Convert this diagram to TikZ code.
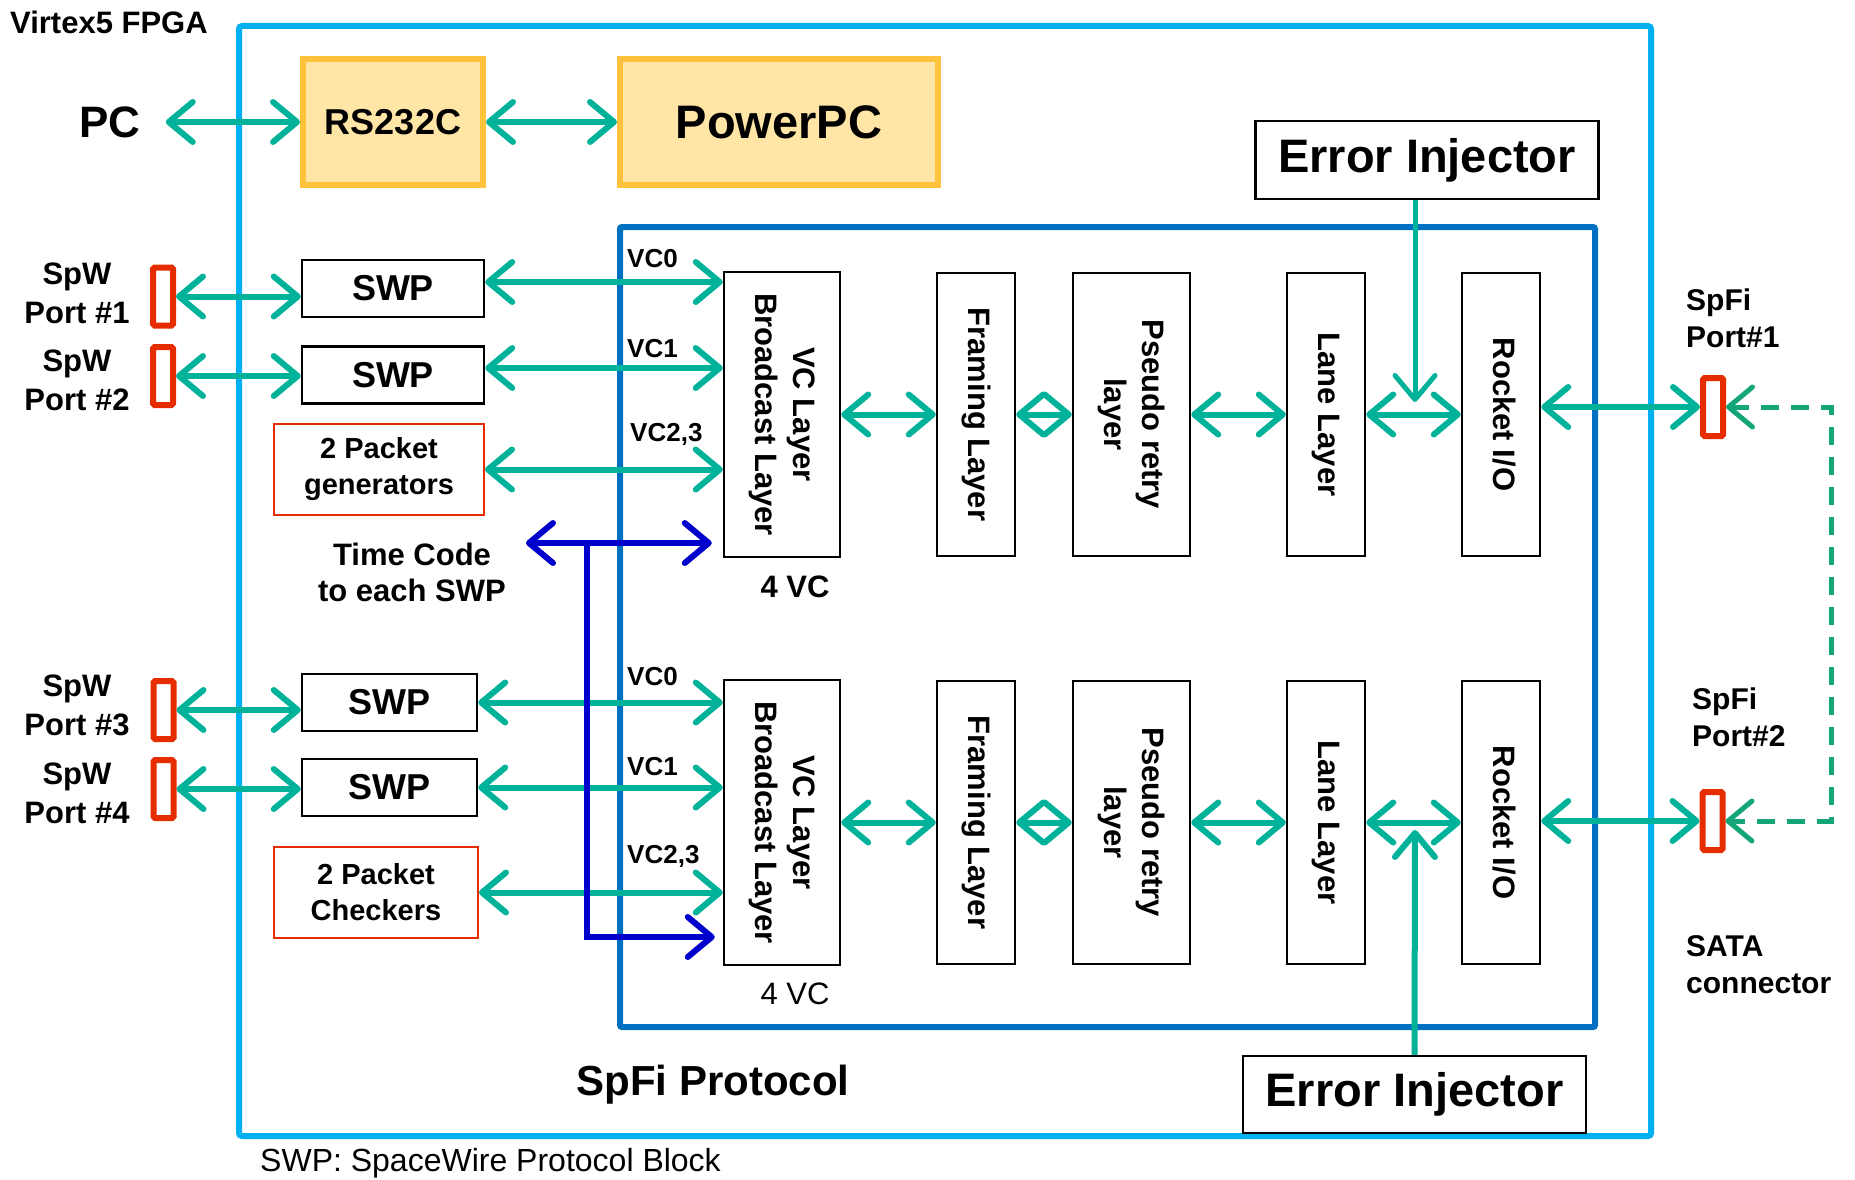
\documentclass[tikz,border=0pt]{standalone}
\usepackage{fontspec}
\setmainfont{Liberation Sans}
\usepackage{graphicx}
\usetikzlibrary{arrows.meta,calc}
\definecolor{tealA}{RGB}{0,178,153}
\definecolor{dashG}{RGB}{20,165,120}
\definecolor{fpgaBlue}{RGB}{0,176,240}
\definecolor{spfiBlue}{RGB}{0,112,192}
\definecolor{orgLine}{RGB}{255,194,60}
\definecolor{orgFill}{RGB}{255,230,166}
\definecolor{portRed}{RGB}{230,45,0}
\definecolor{tcBlue}{RGB}{0,0,204}
\newcommand\myfs[2]{\fontsize{#1}{#2}\selectfont}
\newcommand\rot[1]{\rotatebox{-90}{\begin{tabular}{@{}c@{}}#1\end{tabular}}}
\begin{document}
\begin{tikzpicture}[x=1pt,y=-1pt,
  >={Straight Barb[length=24pt,width=40pt,round]},
  conn/.style={draw=tealA,line width=6pt},
  dconn/.style={draw=dashG,line width=5pt,dash pattern=on 18pt off 12pt},
  tcline/.style={draw=tcBlue,line width=6pt},
  blk/.style={draw=black,line width=2.5pt,fill=white,inner sep=0pt,align=center},
  layer/.style={blk,minimum width=78pt,minimum height=283pt,font=\myfs{31}{38}\bfseries},
  swpbox/.style={blk,minimum width=182pt,minimum height=57pt,font=\myfs{36}{40}\bfseries},
  pkt/.style={draw=portRed,line width=2pt,fill=white,inner sep=0pt,align=center,minimum height=91pt,font=\myfs{29}{36}\bfseries},
  org/.style={draw=orgLine,fill=orgFill,line width=6pt,inner sep=0pt,minimum height=126pt},
  port/.style={draw=portRed,line width=6pt,fill=white,inner sep=0pt,minimum width=20pt,minimum height=58pt,rounded corners=1.5pt},
  lbl/.style={inner sep=0pt,font=\myfs{31}{39}\bfseries,align=center},
  vclbl/.style={inner sep=0pt,anchor=west,font=\myfs{26}{30}\bfseries}]
\useasboundingbox (0,0) rectangle (1855,1180);

% outer containers
\draw[fpgaBlue,line width=6pt,rounded corners=3pt] (239,26) rectangle (1651,1136);
\draw[spfiBlue,line width=6pt,rounded corners=2pt] (620,227) rectangle (1595,1027);

\node[anchor=west,inner sep=0pt,font=\myfs{31}{36}\bfseries] (fpga) at (10,22) {Virtex5 FPGA};

% top row
\node[inner sep=0pt,inner xsep=25pt,font=\myfs{44}{50}\bfseries] (pc) at (110,122) {PC};
\node[org,minimum width=180pt,font=\myfs{36}{40}\bfseries] (rs) at (393,122) {RS232C};
\node[org,minimum width=318pt,font=\myfs{47}{52}\bfseries] (ppc) at (779,122) {PowerPC};
\draw[conn,<->] (pc.east) -- (rs.west);
\draw[conn,<->] (rs.east) -- (ppc.west);

% error injectors
\node[blk,minimum width=343pt,minimum height=78pt,font=\myfs{47}{52}\bfseries] (ei1) at (1427,160) {Error Injector};
\node[blk,minimum width=343pt,minimum height=77pt,font=\myfs{47}{52}\bfseries] (ei2) at (1414.5,1094.5) {Error Injector};

% layer boxes, upper
\node[layer,minimum width=116pt,minimum height=285pt] (vc1) at (782,414.5) {\rot{VC Layer\\Broadcast Layer}};
\node[layer] (fr1) at (976,414.5) {\rot{Framing Layer}};
\node[layer,minimum width=117pt] (ps1) at (1131.5,414.5) {\rot{Pseudo retry\\layer}};
\node[layer] (la1) at (1326,414.5) {\rot{Lane Layer}};
\node[layer] (ro1) at (1501,414.5) {\rot{Rocket I/O}};
% layer boxes, lower
\node[layer,minimum width=116pt,minimum height=285pt] (vc2) at (782,822.5) {\rot{VC Layer\\Broadcast Layer}};
\node[layer] (fr2) at (976,822.5) {\rot{Framing Layer}};
\node[layer,minimum width=117pt] (ps2) at (1131.5,822.5) {\rot{Pseudo retry\\layer}};
\node[layer] (la2) at (1326,822.5) {\rot{Lane Layer}};
\node[layer] (ro2) at (1501,822.5) {\rot{Rocket I/O}};

\foreach \r in {1,2}{
  \draw[conn,<->] (vc\r.east) -- (fr\r.west);
  \draw[conn,<->] (fr\r.east) -- (ps\r.west);
  \draw[conn,<->] (ps\r.east) -- (la\r.west);
  \draw[conn,<->] (la\r.east) -- (ro\r.west);
}

% error injector arrows
\coordinate (ei1tip) at (1415,402);
\coordinate (ei2tip) at (1415,830);
\draw[conn,line width=5pt,->] (ei1.south -| ei1tip) -- (ei1tip);
\draw[conn,->] (ei2.north) -- (ei2tip);

% SpFi ports
\node[port] (sp1) at (1713,407) {};
\node[port] (sp2) at (1712.5,821) {};
\draw[conn,<->] (ro1.east |- sp1) -- (sp1.west);
\draw[conn,<->] (ro2.east |- sp2) -- (sp2.west);
\coordinate (dc1) at (1831,407);
\coordinate (dc2) at (1831,821);
\draw[dconn,<->] (sp1.east) -- (dc1) -- (dc2) -- (sp2.east);
\node[anchor=west,align=left,inner sep=0pt,font=\myfs{30}{37}\bfseries] (lsp1) at (1686,318) {SpFi\\Port\#1};
\node[anchor=west,align=left,inner sep=0pt,font=\myfs{30}{37}\bfseries] (lsp2) at (1692,717) {SpFi\\Port\#2};
\node[anchor=west,align=left,inner sep=0pt,font=\myfs{30}{37}\bfseries] (sata) at (1686,965) {SATA\\connector};

% SpW ports
\node[port] (sw1) at (163,296.5) {};
\node[port] (sw2) at (163,376) {};
\node[port] (sw3) at (163.5,710) {};
\node[port] (sw4) at (163.5,789) {};
\node[lbl] (lsw1) at (77,293.5) {SpW\\Port \#1};
\node[lbl] (lsw2) at (77,380.5) {SpW\\Port \#2};
\node[lbl] (lsw3) at (77,705.5) {SpW\\Port \#3};
\node[lbl] (lsw4) at (77,793) {SpW\\Port \#4};

% SWP boxes
\node[swpbox] (swp1) at (393,288.5) {SWP};
\node[swpbox] (swp2) at (393,375) {SWP};
\node[swpbox,minimum width=175pt] (swp3) at (389.5,702.5) {SWP};
\node[swpbox,minimum width=175pt] (swp4) at (389.5,787.5) {SWP};
\node[pkt,minimum width=210pt] (gen) at (379,469.5) {2 Packet\\generators};
\node[pkt,minimum width=204pt] (chk) at (376,892.5) {2 Packet\\Checkers};

\draw[conn,<->] (sw1.east) -- (sw1.east -| swp1.west);
\draw[conn,<->] (sw2.east) -- (sw2.east -| swp2.west);
\draw[conn,<->] (sw3.east) -- (sw3.east -| swp3.west);
\draw[conn,<->] (sw4.east) -- (sw4.east -| swp4.west);

\draw[conn,<->] ([yshift=6.5pt]swp1.east) -- ([yshift=6.5pt]swp1.east -| vc1.west);
\draw[conn,<->] ([yshift=7pt]swp2.east) -- ([yshift=7pt]swp2.east -| vc1.west);
\draw[conn,<->] (gen.east) -- (gen.east -| vc1.west);
\draw[conn,<->] (swp3.east) -- (swp3.east -| vc2.west);
\draw[conn,<->] (swp4.east) -- (swp4.east -| vc2.west);
\draw[conn,<->] (chk.east) -- (chk.east -| vc2.west);

\node[vclbl] (v0a) at (627,259) {VC0};
\node[vclbl] (v1a) at (627,349) {VC1};
\node[vclbl] (v2a) at (630,434) {VC2,3};
\node[vclbl] (v0b) at (627,677) {VC0};
\node[vclbl] (v1b) at (627,767) {VC1};
\node[vclbl] (v2b) at (627,856) {VC2,3};

% time code
\coordinate (tcL) at (526,543);
\coordinate (tcJ) at (587,543);
\coordinate (tcB) at (587,937);
\draw[tcline,->] (tcJ) -- (tcL);
\draw[tcline,->] (tcJ) -- ([xshift=-11pt]tcJ -| vc1.west);
\draw[tcline,->] (tcJ) -- (tcB) -- ([xshift=-8pt]tcB -| vc2.west);
\node[lbl,font=\myfs{31}{36}\bfseries] (tclab) at (412,572) {Time Code\\to each SWP};

% other labels
\node[inner sep=0pt,font=\myfs{31}{36}\bfseries] (fvc1) at (795,587) {4 VC};
\node[inner sep=0pt,font=\myfs{31}{36}] (fvc2) at (795,994) {4 VC};
\node[inner sep=0pt,font=\myfs{42}{48}\bfseries] (spfi) at (713,1085) {SpFi Protocol};
\node[anchor=west,inner sep=0pt,font=\myfs{32}{36}] (note) at (260,1163) {SWP: SpaceWire Protocol Block};
\end{tikzpicture}
\end{document}
